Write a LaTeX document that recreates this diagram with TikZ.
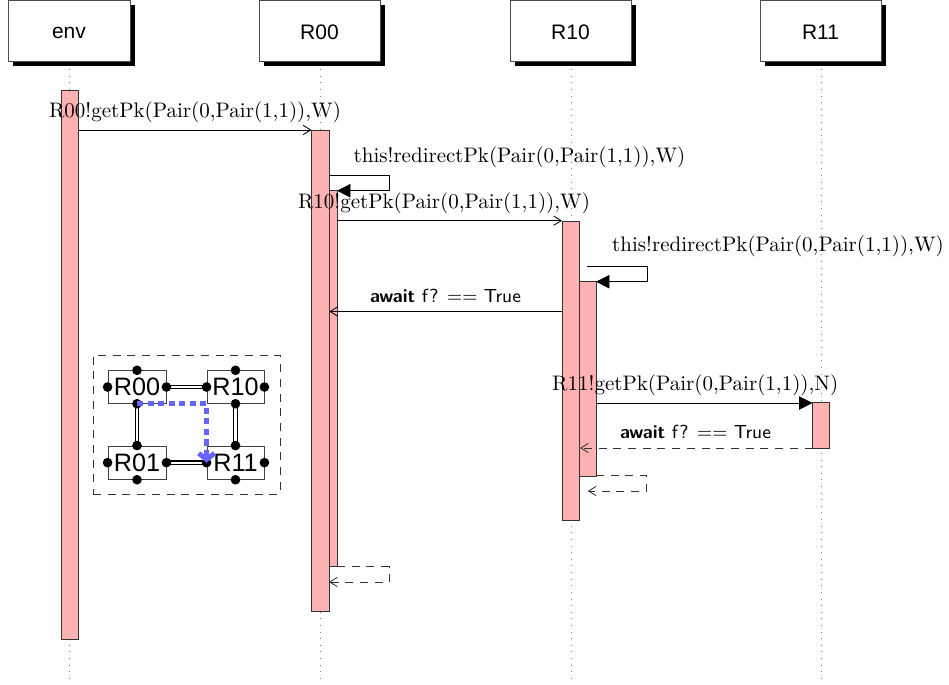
\documentclass[tikz,border=0pt]{standalone}
\usepackage{fontspec}
\newfontfamily\helv{Liberation Sans}
\usetikzlibrary{arrows.meta,fit,shadows}
\newcommand\unitpx{0.476pt}
\begin{document}
\begin{tikzpicture}[x=0.476pt,y=-0.476pt,
  head/.style={draw=black!70, fill=white, inner sep=0pt,
    drop shadow={shadow xshift=5*\unitpx, shadow yshift=-5*\unitpx, fill=black, opacity=1}},
  headtxt/.style={font=\helv\fontsize{10}{12}\selectfont},
  life/.style={draw=gray, dash pattern=on 0.45pt off 2.7pt},
  bar/.style={draw=black!80, fill=red!30, inner sep=0pt},
  opentip/.style={-{Straight Barb[length=3.6pt,width=4.4pt]}},
  msg/.style={draw=black, opentip},
  callmsg/.style={draw=black, -{Triangle[length=6.4pt,width=6.4pt]}},
  retmsg/.style={draw=black!80, opentip, dash pattern=on 3.8pt off 3.2pt},
  lbl/.style={font=\fontsize{10}{12}\selectfont, anchor=base, inner sep=0pt},
  slbl/.style={font=\sffamily\fontsize{9}{11}\selectfont, anchor=base, inner sep=0pt},
  rbox/.style={draw=black!75, fill=white, inner sep=0pt, font=\helv\fontsize{12}{14}\selectfont},
  dot/.style={circle, fill=black, inner sep=0pt, minimum size=4.6pt},
  link/.style={draw=black, double=white, line width=0.6pt, double distance=1.1pt},
  route/.style={draw={rgb,255:red,100;green,100;blue,255}, line width=2.3pt, dash pattern=on 3pt off 2pt,
    -{Straight Barb[length=3pt,width=7.5pt]}},
]
\useasboundingbox (0,0) rectangle (949,684);

% lifelines
\coordinate (lenv) at (69,684);
\coordinate (lr00) at (320,684);
\coordinate (lr10) at (571,684);
\coordinate (lr11) at (821,684);
\node[inner sep=0pt] (tenv) at (69,61) {};
\node[inner sep=0pt] (tr00) at (320,61) {};
\node[inner sep=0pt] (tr10) at (571,61) {};
\node[inner sep=0pt] (tr11) at (821,61) {};
\draw[life] (tenv) -- (lenv);
\draw[life] (tr00) -- (lr00);
\draw[life] (tr10) -- (lr10);
\draw[life] (tr11) -- (lr11);

% headers
\node[head, fit={(8,0) (130,61)}, label={[headtxt,yshift=-2*\unitpx]center:env}] (henv) {};
\node[head, fit={(259,0) (380,61)}, label={[headtxt,yshift=-2*\unitpx]center:R00}] (hr00) {};
\node[head, fit={(510,0) (631,61)}, label={[headtxt,yshift=-2*\unitpx]center:R10}] (hr10) {};
\node[head, fit={(760,0) (881,61)}, label={[headtxt,yshift=-2*\unitpx]center:R11}] (hr11) {};

% activation bars
\node[bar, fit={(61,90) (78,639)}] (benv) {};
\node[bar, fit={(320,190.7) (337,566.7)}] (br00n) {};
\node[bar, fit={(311.5,130) (329,611)}] (br00) {};
\node[bar, fit={(562,221) (579,520)}] (br10) {};
\node[bar, fit={(579,281.7) (596,476)}] (br10n) {};
\node[bar, fit={(812.5,402.5) (829.5,448)}] (br11) {};

% message 1
\coordinate (m1a) at (78,130);
\coordinate (m1b) at (311.5,130);
\draw[msg] (m1a) -- (m1b);
\node[lbl] (t1) at (195,117) {R00!getPk(Pair(0,Pair(1,1)),W)};

% message 2 (self call R00)
\coordinate (m2a) at (329,175.7);
\coordinate (m2b) at (389,175.7);
\coordinate (m2c) at (389,190.7);
\coordinate (m2d) at (337,190.7);
\draw[callmsg] (m2a) -- (m2b) -- (m2c) -- (m2d);
\node[lbl] (t2) at (519.5,162.7) {this!redirectPk(Pair(0,Pair(1,1)),W)};

% message 3
\coordinate (m3a) at (337,220.7);
\coordinate (m3b) at (562,220.7);
\draw[msg] (m3a) -- (m3b);
\node[lbl] (t3) at (444,208.3) {R10!getPk(Pair(0,Pair(1,1)),W)};

% message 4 (self call R10)
\coordinate (m4a) at (587,266.3);
\coordinate (m4b) at (647,266.3);
\coordinate (m4c) at (647,281.7);
\coordinate (m4d) at (596,281.7);
\draw[callmsg] (m4a) -- (m4b) -- (m4c) -- (m4d);
\node[lbl] (t4) at (778,251.7) {this!redirectPk(Pair(0,Pair(1,1)),W)};

% message 5 (return to R00)
\coordinate (m5a) at (562,311.5);
\coordinate (m5b) at (329.3,311.5);
\draw[msg] (m5a) -- (m5b);
\node[slbl] (t5) at (445.5,302.7) {\textbf{await} f? $==$ True};

% message 6
\coordinate (m6a) at (596,403);
\coordinate (m6b) at (812.5,403);
\draw[callmsg] (m6a) -- (m6b);
\node[lbl] (t6) at (695.3,390.7) {R11!getPk(Pair(0,Pair(1,1)),N)};

% message 7 (return from R11)
\coordinate (m7a) at (812.5,448);
\coordinate (m7b) at (580,448);
\draw[retmsg] (m7a) -- (m7b);
\node[slbl] (t7) at (695.5,438.3) {\textbf{await} f? $==$ True};

% self return R10
\coordinate (m8a) at (596,475.7);
\coordinate (m8b) at (646.7,475.7);
\coordinate (m8c) at (646.7,491);
\coordinate (m8d) at (587.7,491);
\draw[retmsg] (m8a) -- (m8b) -- (m8c) -- (m8d);

% self return R00
\coordinate (m9a) at (337,566.7);
\coordinate (m9b) at (389,566.7);
\coordinate (m9c) at (389,582);
\coordinate (m9d) at (329,582);
\draw[retmsg] (m9a) -- (m9b) -- (m9c) -- (m9d);

% inset
\node[draw=black!80, dash pattern=on 3.8pt off 3.2pt, inner sep=0pt, fit={(93,355) (280,494)}] (inset) {};
\node[rbox, fit={(108,370.7) (166,403.3)}, label={[rbox,draw=none,fill=none]center:R00}] (q00) {};
\node[rbox, fit={(207,370.7) (264,403.3)}, label={[rbox,draw=none,fill=none]center:R10}] (q10) {};
\node[rbox, fit={(108,446) (166,479.3)}, label={[rbox,draw=none,fill=none]center:R01}] (q01) {};
\node[rbox, fit={(207,446) (264,479.3)}, label={[rbox,draw=none,fill=none]center:R11}] (q11) {};
\draw[link] (q00.east) -- (q10.west);
\draw[link] (q00.south) -- (q01.north);
\draw[link] (q10.south) -- (q11.north);
\draw[link] (q01.east) -- (q11.west);
\foreach \q in {q00,q10,q01,q11} {
  \foreach \a in {north,south,east,west} {
    \node[dot] at (\q.\a) {};
  }
}
\draw[route] (q00.south) -| (q11.west);
\end{tikzpicture}
\end{document}
